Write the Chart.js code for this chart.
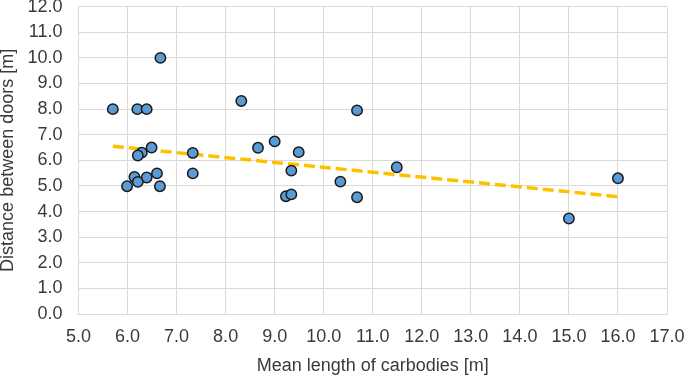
<!DOCTYPE html>
<html>
<head>
<meta charset="utf-8">
<script src="https://cdn.jsdelivr.net/npm/chart.js@4/dist/chart.umd.min.js"></script>
<style>
  html, body { margin: 0; padding: 0; background: #fff; }
  #wrap { width: 685px; height: 375px; }
</style>
</head>
<body>
<div id="wrap"><canvas id="chart"></canvas></div>
<script>
// mean carbody length [m] vs distance between doors [m]
const lengths = [6.67, 5.7, 6.2, 6.39, 6.49, 6.29, 6.21, 7.33, 7.33, 6.6, 6.14, 6.39, 6.21, 5.99, 6.66,
  8.32, 10.68, 9.0, 8.66, 9.49, 9.34, 11.49, 10.34, 9.23, 9.34, 10.68, 15.0, 16.0];
const distances = [10.0, 8.0, 8.0, 8.0, 6.5, 6.3, 6.19, 6.29, 5.49, 5.49, 5.35, 5.33, 5.16, 4.99, 4.99,
  8.32, 7.95, 6.74, 6.49, 6.32, 5.6, 5.73, 5.17, 4.6, 4.67, 4.56, 3.73, 5.3];
// linear trend endpoints as drawn
const trendX = [5.7, 16.0];
const trendY = [6.55, 4.58];

const xTicks = [5, 6, 7, 8, 9, 10, 11, 12, 13, 14, 15, 16, 17];
const yTicks = [0, 1, 2, 3, 4, 5, 6, 7, 8, 9, 10, 11, 12];

const textGrey = '#3a3a3a';
const gridGrey = '#d9d9d9';
const font = { family: '"Liberation Sans", Arial, sans-serif', size: 18 };

const pts = lengths.map((x, i) => ({ x: x, y: distances[i] }));
const trend = trendX.map((x, i) => ({ x: x, y: trendY[i] }));

new Chart(document.getElementById('chart'), {
  type: 'scatter',
  data: {
    datasets: [{
      data: pts,
      backgroundColor: '#5b9bd5',
      borderColor: '#1a1a1a',
      borderWidth: 1.5,
      pointRadius: 5.2,
      order: 0
    }, {
      type: 'line',
      data: trend,
      borderColor: '#ffc000',
      borderWidth: 3.5,
      borderDash: [11, 5],
      pointRadius: 0,
      fill: false,
      order: 1
    }]
  },
  options: {
    responsive: true,
    maintainAspectRatio: false,
    animation: false,
    layout: { padding: { top: 6, right: 18, left: 0, bottom: 0 } },
    plugins: { legend: false, tooltip: false },
    scales: {
      x: {
        type: 'linear',
        min: 5, max: 17,
        afterBuildTicks: s => { s.ticks = xTicks.map(v => ({ value: v })); },
        afterFit: s => { s.height = 61; s.paddingLeft = 0; s.paddingRight = 0; },
        grid: { color: gridGrey, drawTicks: false },
        border: { color: gridGrey },
        ticks: { color: textGrey, font: font, padding: 12, maxRotation: 0,
          callback: v => v.toFixed(1) },
        title: { display: true, text: 'Mean length of carbodies [m]', color: textGrey,
          font: font, padding: { top: 0, bottom: -2 } }
      },
      y: {
        min: 0, max: 12,
        afterBuildTicks: s => { s.ticks = yTicks.map(v => ({ value: v })); },
        afterFit: s => { s.width = 78.5; s.paddingTop = 0; s.paddingBottom = 0; },
        grid: { color: gridGrey, drawTicks: false },
        border: { color: gridGrey },
        ticks: { color: textGrey, font: font, padding: 16,
          callback: v => v.toFixed(1) },
        title: { display: true, text: 'Distance between doors [m]', color: textGrey,
          font: font, padding: { top: -3, bottom: 0 } }
      }
    }
  }
});
</script>
</body>
</html>
